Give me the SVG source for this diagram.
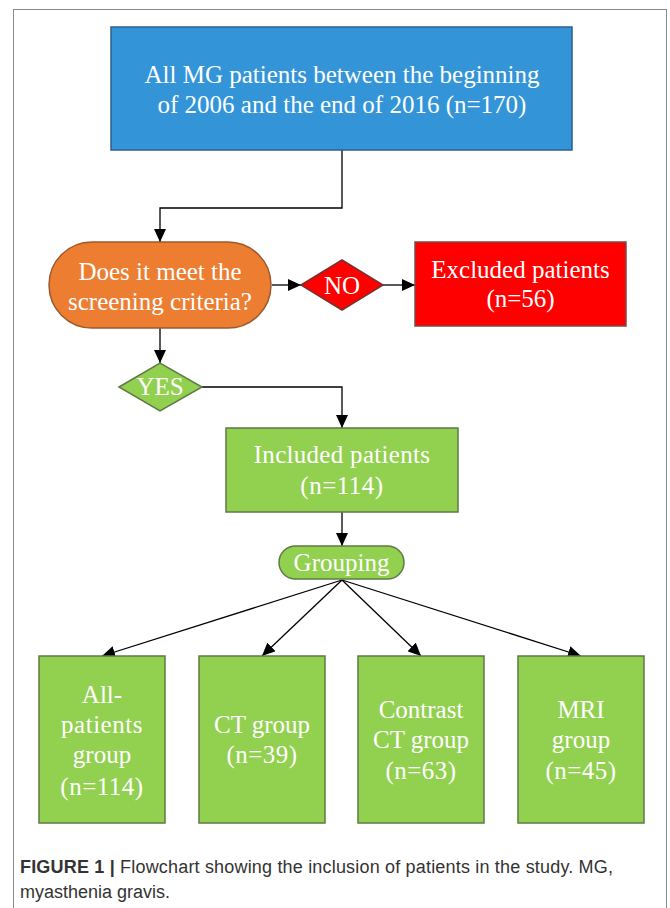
<svg xmlns="http://www.w3.org/2000/svg" width="670" height="908" viewBox="0 0 670 908">
<defs>
<marker id="arr" markerUnits="userSpaceOnUse" markerWidth="14" markerHeight="12" refX="13" refY="6" orient="auto">
<path d="M0,0 L13,6 L0,12 Z" fill="#000"/>
</marker>
<style>
.lbl{font-family:"Liberation Serif","Times New Roman",serif;font-size:25px;fill:#fff;text-anchor:middle}
.con{fill:none;stroke:#000;stroke-width:1.3}
.g{fill:#92d050;stroke:#5f7a44;stroke-width:1.5}
.cap{font-family:"Liberation Sans",Arial,sans-serif;font-size:18px;fill:#333}
</style>
</defs>
<rect x="0" y="0" width="670" height="908" fill="#fff"/>
<rect x="13.5" y="9.5" width="653" height="920" fill="none" stroke="#8a8a8a" stroke-width="1"/>

<g id="connectors">
<polyline class="con" points="342,150 342,208 160,208 160,242" marker-end="url(#arr)"/>
<line class="con" x1="272" y1="285" x2="301" y2="285" marker-end="url(#arr)"/>
<line class="con" x1="383" y1="285" x2="415" y2="285" marker-end="url(#arr)"/>
<line class="con" x1="160" y1="328" x2="160" y2="363" marker-end="url(#arr)"/>
<polyline class="con" points="202,387 342,387 342,428" marker-end="url(#arr)"/>
<line class="con" x1="342" y1="512" x2="342" y2="546" marker-end="url(#arr)"/>
<line class="con" x1="342" y1="580" x2="102" y2="656" marker-end="url(#arr)"/>
<line class="con" x1="342" y1="580" x2="262" y2="656" marker-end="url(#arr)"/>
<line class="con" x1="342" y1="580" x2="421" y2="656" marker-end="url(#arr)"/>
<line class="con" x1="342" y1="580" x2="581" y2="656" marker-end="url(#arr)"/>
</g>

<g id="all-patients">
<rect x="111" y="27" width="461" height="123" fill="#3395d8" stroke="#2f5f8a" stroke-width="1.5"/>
<text class="lbl" x="342" y="83">All MG patients between the beginning</text>
<text class="lbl" x="342" y="113">of 2006 and the end of 2016 (n=170)</text>
</g>

<g id="screening">
<rect x="49" y="242" width="222" height="86" rx="43" ry="43" fill="#ed7d31" stroke="#9a5a2e" stroke-width="1.5"/>
<text class="lbl" x="160" y="280">Does it meet the</text>
<text class="lbl" x="160" y="310">screening criteria?</text>
</g>

<g id="no">
<polygon points="301,285 342,260 383,285 342,310" fill="#ff0000" stroke="#7a3030" stroke-width="1.5"/>
<text class="lbl" x="342" y="294">NO</text>
</g>

<g id="excluded">
<rect x="415" y="242" width="211" height="84" fill="#ff0000" stroke="#7a4a4a" stroke-width="1.5"/>
<text class="lbl" x="520.5" y="278">Excluded patients</text>
<text class="lbl" x="520.5" y="307">(n=56)</text>
</g>

<g id="yes">
<polygon class="g" points="119,387 160,363 202,387 160,411"/>
<text class="lbl" x="160" y="395">YES</text>
</g>

<g id="included">
<rect class="g" x="226" y="428" width="232" height="84"/>
<text class="lbl" x="342" y="463" letter-spacing="0.3">Included patients</text>
<text class="lbl" x="342" y="494" letter-spacing="0.5">(n=114)</text>
</g>

<g id="grouping">
<rect class="g" x="279" y="546" width="125" height="33" rx="16.5" ry="16.5"/>
<text class="lbl" x="341.5" y="571">Grouping</text>
</g>

<g id="all-patients-group">
<rect class="g" x="39" y="656" width="126" height="167"/>
<text class="lbl" x="102" y="703">All-</text>
<text class="lbl" x="102" y="733" letter-spacing="0.5">patients</text>
<text class="lbl" x="102" y="763">group</text>
<text class="lbl" x="102" y="795" letter-spacing="0.5">(n=114)</text>
</g>

<g id="ct-group">
<rect class="g" x="199" y="656" width="126" height="167"/>
<text class="lbl" x="262" y="733">CT group</text>
<text class="lbl" x="262" y="763" letter-spacing="0.5">(n=39)</text>
</g>

<g id="contrast-ct-group">
<rect class="g" x="358" y="656" width="126" height="167"/>
<text class="lbl" x="421" y="718">Contrast</text>
<text class="lbl" x="421" y="748">CT group</text>
<text class="lbl" x="421" y="779" letter-spacing="0.5">(n=63)</text>
</g>

<g id="mri-group">
<rect class="g" x="518" y="656" width="126" height="167"/>
<text class="lbl" x="581" y="718">MRI</text>
<text class="lbl" x="581" y="748">group</text>
<text class="lbl" x="581" y="779" letter-spacing="0.5">(n=45)</text>
</g>

<g id="caption">
<text class="cap" x="20" y="873" textLength="593" lengthAdjust="spacing"><tspan font-weight="bold">FIGURE 1 | </tspan>Flowchart showing the inclusion of patients in the study. MG,</text>
<text class="cap" x="20" y="898">myasthenia gravis.</text>
</g>
</svg>
